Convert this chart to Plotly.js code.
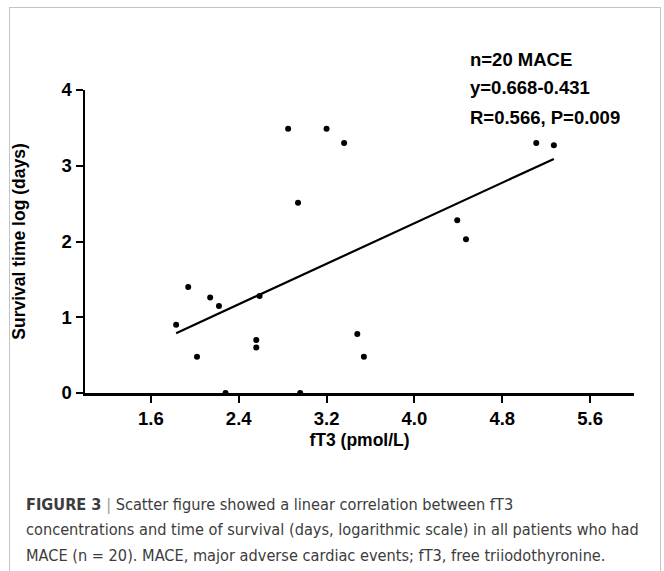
<!DOCTYPE html>
<html>
<head>
<meta charset="utf-8">
<script src="https://cdn.plot.ly/plotly-3.0.1.min.js"></script>
<style>
  html, body { margin: 0; padding: 0; background: #fff; }
  #frame { position: absolute; left: 9px; top: 7px; width: 650px; height: 600px;
           border: 1.5px solid #c4c4c4; border-bottom: none; }
  #chart { position: absolute; left: 0; top: 0; width: 664px; height: 571px; }
</style>
</head>
<body>
<div id="frame"></div>
<div id="chart"></div>
<script>
// fT3 (pmol/L) values
const fT3 = [1.83, 1.94, 2.02, 2.14, 2.22, 2.28, 2.56, 2.56, 2.59, 2.85,
             2.94, 2.96, 3.20, 3.36, 3.48, 3.54, 4.39, 4.47, 5.11, 5.27];
// Survival time log (days)
const survivalLog = [0.90, 1.40, 0.48, 1.26, 1.15, 0.00, 0.70, 0.60, 1.28, 3.49,
                     2.51, 0.00, 3.49, 3.30, 0.78, 0.48, 2.28, 2.03, 3.30, 3.27];
// regression line end points (y = 0.668x - 0.431)
const fitX = [1.83, 5.27];
const fitY = [0.79, 3.09];
const xTicks = [1.6, 2.4, 3.2, 4.0, 4.8, 5.6];
const xTickLabels = ["1.6", "2.4", "3.2", "4.0", "4.8", "5.6"];
const yTicks = [0, 1, 2, 3, 4];
const statLines = ["n=20 MACE", "y=0.668-0.431", "R=0.566, P=0.009"];
const captionLines = [
  "<b>FIGURE 3</b> <span style='color:#999'>|</span> Scatter figure showed a linear correlation between fT3",
  "concentrations and time of survival (days, logarithmic scale) in all patients who had",
  "MACE (n = 20). MACE, major adverse cardiac events; fT3, free triiodothyronine."
];

const axisFont = {family: "Liberation Sans", size: 18.5, color: "#000", weight: "bold"};
const titleFont = {family: "Liberation Sans", size: 17.5, color: "#000", weight: "bold"};
const capFont = {family: "DejaVu Sans Condensed, Liberation Sans Narrow, sans-serif", size: 16.2, color: "#3c3c3c"};

const traces = [
  {x: fT3, y: survivalLog, mode: "markers", type: "scatter",
   marker: {color: "#000", size: 6}, cliponaxis: false, hoverinfo: "x+y"},
  {x: fitX, y: fitY, mode: "lines", type: "scatter",
   line: {color: "#000", width: 2.2}, hoverinfo: "skip"}
];

const annotations = [];
const statY = [1.10, 1.007, 0.91];
statLines.forEach((t, i) => annotations.push({
  text: "<b>" + t + "</b>", xref: "paper", yref: "paper",
  x: 0.697, y: statY[i], xanchor: "left", yanchor: "middle", showarrow: false,
  font: {family: "Liberation Sans", size: 18.5, color: "#000"}
}));
const capY = [-0.368, -0.452, -0.536];
captionLines.forEach((t, i) => annotations.push({
  text: t, xref: "paper", yref: "paper",
  x: -0.111, y: capY[i], xanchor: "left", yanchor: "middle", showarrow: false,
  font: capFont, align: "left"
}));

const layout = {
  width: 664, height: 571,
  margin: {l: 85, r: 30, t: 90, b: 178},
  paper_bgcolor: "rgba(0,0,0,0)", plot_bgcolor: "rgba(0,0,0,0)",
  showlegend: false,
  xaxis: {
    range: [1.0, 6.0], tickvals: xTicks, ticktext: xTickLabels,
    showgrid: false, zeroline: false, showline: true, linecolor: "#000", linewidth: 2.5,
    ticks: "outside", ticklen: 7, tickwidth: 2, tickcolor: "#000",
    tickfont: axisFont,
    title: {text: "<b>fT3 (pmol/L)</b>", font: titleFont, standoff: 6}
  },
  yaxis: {
    range: [0, 4], tickvals: yTicks,
    showgrid: false, zeroline: false, showline: true, linecolor: "#000", linewidth: 2.5,
    ticks: "outside", ticklen: 7, tickwidth: 2, tickcolor: "#000",
    tickfont: axisFont,
    title: {text: "<b>Survival time log (days)</b>", font: titleFont, standoff: 32}
  },
  annotations: annotations
};

Plotly.newPlot("chart", traces, layout, {displayModeBar: false, staticPlot: true});
</script>
</body>
</html>
